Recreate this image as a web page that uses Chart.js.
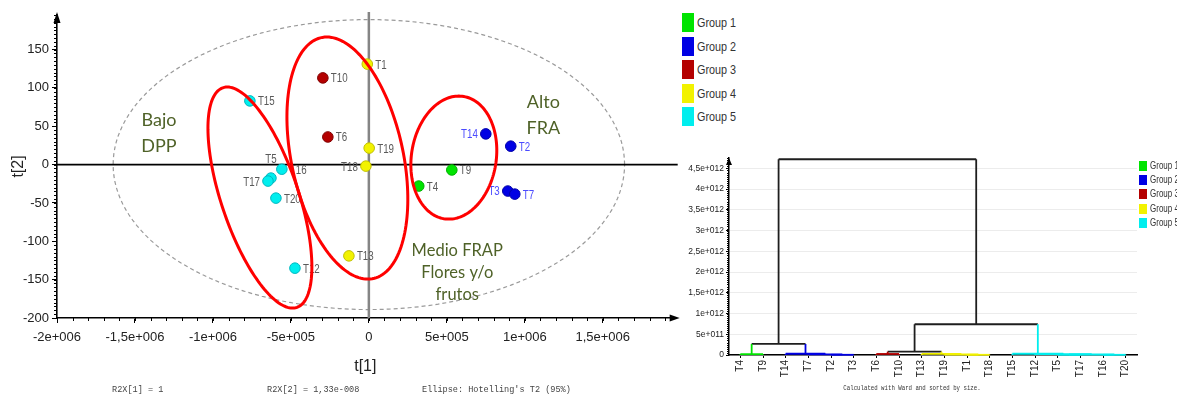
<!DOCTYPE html>
<html><head><meta charset="utf-8">
<script src="https://cdn.jsdelivr.net/npm/chart.js@4.4.1/dist/chart.umd.min.js"></script>
<style>
html,body{margin:0;padding:0;background:#fff}
body{width:1177px;height:396px;overflow:hidden;position:relative;font-family:'Liberation Sans',Arial,sans-serif}
#c1{position:absolute;left:0;top:0}
#c2{position:absolute;left:680px;top:140px}
.sw{position:absolute}
.lt{position:absolute;white-space:nowrap;color:#333;transform:scaleX(0.8);transform-origin:0 50%}
</style></head><body>
<canvas id="c1" width="680" height="396"></canvas>
<canvas id="c2" width="497" height="256"></canvas>
<div id="leg1"></div><div id="leg2"></div>
<script>
// ---------- data ----------
const groupNames = ['Group 1','Group 2','Group 3','Group 4','Group 5'];
const groupColors = ['#00e400','#0000e4','#b40000','#f2f200','#00eeee'];
const groupEdge   = ['#00b000','#0000a8','#800000','#c0c000','#00b8c0'];

// score plot observations t[1], t[2]
const obsNames = ['T1','T2','T3','T4','T5','T6','T7','T9','T10','T12','T13','T14','T15','T16','T17','T18','T19','T20'];
const obsT1    = [-10000,910000,891000,320000,-628000,-263000,936000,532000,-295000,-474000,-128000,750000,-763000,-558000,-647000,-19000,2000,-596000];
const obsT2    = [131,24,-34.5,-28,-17.6,36,-38.5,-7,113,-135,-119,40,83,-6,-21.5,-2,21.5,-43.7];
const obsGroup = [4,2,2,1,5,3,2,1,3,5,4,2,5,5,5,4,4,5];
const labelSide= ['r','r','l','r','t','r','r','r','r','r','r','l','r','r','l','l','r','r'];

const xTickValues = [-2e6,-1.5e6,-1e6,-5e5,0,5e5,1e6,1.5e6];
const xTickLabels = ['-2e+006','-1,5e+006','-1e+006','-5e+005','0','5e+005','1e+006','1,5e+006'];
const yTickValues = [-200,-150,-100,-50,0,50,100,150];
const yTickLabels = ['-200','-150','-100','-50','0','50','100','150'];

// Hotelling T2 (95%) ellipse semi-axes, data units
const hotellingA = 1.64e6, hotellingB = 189;
// hand-drawn region ellipses: centre + two conjugate semi-diameters (data units)
const regionEllipses = [
  {cx:-698700, cy:-43.0, ux:-209000, uy:144.1, vx:259600, vy:0},
  {cx:-137800, cy:8.5,   ux:-131400, uy:157.8, vx:364700, vy:0},
  {cx:544900,  cy:9.1,   ux:32000,   uy:80.2,  vx:273700, vy:0}
];
const regionTexts = [
  {x:-1.346e6, y:50.2,   lines:['Bajo','DPP'], size:18, lh:26},
  {x:1.119e6,  y:73.7,   lines:['Alto','FRA'], size:18, lh:26},
  {x:567000,   y:-119.3, lines:['Medio FRAP','Flores y/o','frutos'], size:16.5, lh:22}
];
const footerTexts = ['R2X[1] = 1','R2X[2] = 1,33e-008',"Ellipse: Hotelling's T2 (95%)"];

// dendrogram
const leaves    = ['T4','T9','T14','T7','T2','T3','T6','T10','T13','T19','T1','T18','T15','T12','T5','T17','T16','T20'];
const leafGroup = [1,1,2,2,2,2,3,3,4,4,4,4,5,5,5,5,5,5];
// merges: node ids 0..17 are leaves, merge k creates node 18+k
const mergeA      = [0, 4, 3, 2, 18, 6, 10, 9, 8, 23, 14, 16, 28, 13, 12, 27, 22];
const mergeB      = [1, 5, 19, 20, 21, 7, 11, 24, 25, 26, 15, 17, 29, 30, 31, 32, 33];
const mergeHeight = [0.02e12,0.005e12,0.015e12,0.03e12,0.266e12,0.025e12,0.005e12,0.012e12,0.025e12,0.08e12,0.005e12,0.005e12,0.012e12,0.02e12,0.03e12,0.742e12,4.72e12];
const mergeGroup  = [1,2,2,2,0,3,4,4,4,0,5,5,5,5,5,0,0];
const dTickValues = [0,5e11,1e12,1.5e12,2e12,2.5e12,3e12,3.5e12,4e12,4.5e12];
const dTickLabels = ['0','5e+011','1e+012','1,5e+012','2e+012','2,5e+012','3e+012','3,5e+012','4e+012','4,5e+012'];
const dendroNote = 'Calculated with Ward and sorted by size.';

// ---------- helpers ----------
const SANS = "'Liberation Sans',Arial,sans-serif";
function ellipsePath(ctx, xs, ys, e){
  ctx.beginPath();
  for(let i=0;i<=160;i++){
    const t=i/160*2*Math.PI;
    const dx=e.cx+e.ux*Math.cos(t)+e.vx*Math.sin(t);
    const dy=e.cy+e.uy*Math.cos(t)+e.vy*Math.sin(t);
    const px=xs.getPixelForValue(dx), py=ys.getPixelForValue(dy);
    if(i===0) ctx.moveTo(px,py); else ctx.lineTo(px,py);
  }
  ctx.closePath();
}
function narrowText(ctx, text, x, y, align, sx){
  ctx.save(); ctx.translate(x,y); ctx.scale(sx,1); ctx.textAlign=align; ctx.fillText(text,0,0); ctx.restore();
}

// ---------- score plot ----------
const scatterDatasets = groupNames.map((g,gi)=>{
  const idx = obsNames.map((n,i)=>i).filter(i=>obsGroup[i]===gi+1);
  return {label:g, data: idx.map(i=>({x:obsT1[i], y:obsT2[i], i})),
    backgroundColor:groupColors[gi], borderColor:groupEdge[gi], borderWidth:1,
    pointRadius:5.3, pointHoverRadius:5.3, clip:false};
});

const scorePlugin = {
  id:'score',
  beforeDatasetsDraw(chart){
    const {ctx, chartArea:ca, scales:{x,y}} = chart;
    ctx.save();
    ellipsePath(ctx,x,y,{cx:0,cy:0,ux:hotellingA,uy:0,vx:0,vy:hotellingB});
    ctx.setLineDash([4,3]); ctx.strokeStyle='#9a9a9a'; ctx.lineWidth=1.2; ctx.stroke();
    ctx.setLineDash([]);
    const x0=x.getPixelForValue(0), y0=y.getPixelForValue(0);
    ctx.strokeStyle='#858585'; ctx.lineWidth=2.5;
    ctx.beginPath(); ctx.moveTo(x0,ca.top-3); ctx.lineTo(x0,ca.bottom); ctx.stroke();
    ctx.strokeStyle='#000'; ctx.lineWidth=1.6;
    ctx.beginPath(); ctx.moveTo(ca.left,y0); ctx.lineTo(ca.right+4,y0); ctx.stroke();
    ctx.restore();
  },
  afterDatasetsDraw(chart){
    const {ctx, scales:{x,y}} = chart;
    ctx.save();
    // point labels
    ctx.font = "12.5px "+SANS; ctx.textBaseline='middle';
    chart.data.datasets.forEach((ds,di)=>{
      const meta = chart.getDatasetMeta(di);
      ds.data.forEach((d,j)=>{
        const el = meta.data[j]; const i = d.i;
        ctx.fillStyle = obsGroup[i]===2 ? '#4b4bff' : '#5a5a5a';
        const s = labelSide[i];
        if(s==='r') narrowText(ctx,obsNames[i],el.x+8,el.y+1,'left',0.78);
        else if(s==='l') narrowText(ctx,obsNames[i],el.x-8,el.y+1,'right',0.78);
        else narrowText(ctx,obsNames[i],el.x,el.y-19,'center',0.78);
      });
    });
    // region ellipses
    regionEllipses.forEach(e=>{
      ellipsePath(ctx,x,y,e);
      ctx.strokeStyle='#ff0000'; ctx.lineWidth=3; ctx.stroke();
    });
    // region texts
    ctx.fillStyle='#4f6228'; ctx.textAlign='center'; ctx.textBaseline='alphabetic';
    regionTexts.forEach(t=>{
      ctx.font = t.size+"px Lato, 'Open Sans', sans-serif";
      const px=x.getPixelForValue(t.x), py=y.getPixelForValue(t.y);
      t.lines.forEach((l,k)=>ctx.fillText(l,px,py+k*t.lh));
    });
    ctx.restore();
  },
  afterDraw(chart){
    const {ctx, chartArea:ca, scales:{x,y}} = chart;
    ctx.save();
    ctx.strokeStyle='#000'; ctx.lineWidth=1;
    // minor ticks
    const xs=(xTickValues[1]-xTickValues[0])/5;
    ctx.beginPath();
    for(let v=x.min; v<=x.max+1; v+=xs){ const p=Math.round(x.getPixelForValue(v))+0.5; ctx.moveTo(p,ca.bottom); ctx.lineTo(p,ca.bottom+3); }
    const ysStep=(yTickValues[1]-yTickValues[0])/10;
    for(let v=y.min; v<=y.max; v+=ysStep){ const p=Math.round(y.getPixelForValue(v))+0.5; ctx.moveTo(ca.left-3,p); ctx.lineTo(ca.left,p); }
    ctx.stroke();
    // arrows
    ctx.fillStyle='#000';
    ctx.beginPath(); ctx.moveTo(ca.left-3.5,ca.top+8); ctx.lineTo(ca.left+3.5,ca.top+8); ctx.lineTo(ca.left,ca.top-3); ctx.closePath(); ctx.fill();
    ctx.beginPath(); ctx.moveTo(ca.right-4,ca.bottom-3.5); ctx.lineTo(ca.right-4,ca.bottom+3.5); ctx.lineTo(ca.right+6,ca.bottom); ctx.closePath(); ctx.fill();
    // footer
    ctx.font="9.5px 'Liberation Mono','DejaVu Sans Mono',monospace"; ctx.fillStyle='#444';
    ctx.textBaseline='middle';
    const fx=[112,267,422];
    footerTexts.forEach((t,k)=>narrowText(ctx,t,fx[k],389,'left',0.9));
    ctx.restore();
  }
};

new Chart(document.getElementById('c1'),{
  type:'scatter',
  data:{datasets:scatterDatasets},
  plugins:[scorePlugin],
  options:{
    responsive:false, animation:false, devicePixelRatio:1, events:[],
    layout:{padding:{top:15,right:6,left:0,bottom:0}},
    plugins:{legend:{display:false},tooltip:{enabled:false}},
    scales:{
      x:{type:'linear',min:-2e6,max:1.955e6,
        afterBuildTicks(s){s.ticks=xTickValues.map(v=>({value:v}));},
        afterFit(s){s.height=78;},
        ticks:{callback:(v,i)=>xTickLabels[i],font:{size:13,family:SANS},color:'#222',padding:7,maxRotation:0,autoSkip:false},
        grid:{drawOnChartArea:false,drawTicks:true,tickLength:5,color:'#000'},
        border:{display:true,color:'#000',width:1.6},
        title:{display:true,text:'t[1]',font:{size:16,family:SANS},color:'#222',padding:{top:0,bottom:20}}
      },
      y:{type:'linear',min:-200,max:195,
        afterBuildTicks(s){s.ticks=yTickValues.map(v=>({value:v}));},
        afterFit(s){s.width=57;},
        ticks:{callback:(v,i)=>yTickLabels[i],font:{size:13,family:SANS},color:'#222',padding:3},
        grid:{drawOnChartArea:false,drawTicks:true,tickLength:5,color:'#000'},
        border:{display:true,color:'#000',width:1.6},
        title:{display:true,text:'t[2]',font:{size:16,family:SANS},color:'#222',padding:{top:9,bottom:0}}
      }
    }
  }
});

// ---------- dendrogram ----------
const nodeX = leaves.map((l,i)=>i), nodeH = leaves.map(()=>0), nodeG = leafGroup.slice();
mergeA.forEach((a,k)=>{ const b=mergeB[k]; nodeX.push((nodeX[a]+nodeX[b])/2); nodeH.push(mergeHeight[k]); nodeG.push(mergeGroup[k]); });
const gcol = g => g===0 ? '#1e1e1e' : groupColors[g-1];
const dendroDatasets = [];
mergeA.forEach((a,k)=>{
  const b=mergeB[k], h=mergeHeight[k];
  [a,b].forEach(c=>dendroDatasets.push({data:[{x:nodeX[c],y:nodeH[c]},{x:nodeX[c],y:h}],borderColor:gcol(nodeG[c])}));
  dendroDatasets.push({data:[{x:nodeX[a],y:h},{x:nodeX[b],y:h}],borderColor:gcol(mergeGroup[k])});
});
dendroDatasets.forEach(d=>{d.type='line';d.borderWidth=1.8;d.pointRadius=0;d.fill=false;d.tension=0;d.clip=false;});

const dendroPlugin = {
  id:'dendro',
  afterDraw(chart){
    const {ctx, chartArea:ca, scales:{y}} = chart;
    ctx.save();
    ctx.strokeStyle='#000'; ctx.lineWidth=1;
    const st=(dTickValues[1]-dTickValues[0])/10;
    ctx.beginPath();
    for(let v=0; v<=y.max; v+=st){ const p=Math.round(y.getPixelForValue(v))+0.5; ctx.moveTo(ca.left-2,p); ctx.lineTo(ca.left,p); }
    ctx.stroke();
    ctx.fillStyle='#000';
    ctx.beginPath(); ctx.moveTo(ca.left-3,ca.top+7); ctx.lineTo(ca.left+3,ca.top+7); ctx.lineTo(ca.left,ca.top); ctx.closePath(); ctx.fill();
    ctx.font="6.5px 'Liberation Mono','DejaVu Sans Mono',monospace"; ctx.fillStyle='#333';
    ctx.textBaseline='middle';
    narrowText(ctx,dendroNote,232,248,'center',0.88);
    ctx.restore();
  }
};

new Chart(document.getElementById('c2'),{
  type:'line',
  data:{datasets:dendroDatasets},
  plugins:[dendroPlugin],
  options:{
    responsive:false, animation:false, devicePixelRatio:1, events:[],
    layout:{padding:{top:18,right:40,left:0,bottom:0}},
    plugins:{legend:{display:false},tooltip:{enabled:false}},
    scales:{
      x:{type:'linear',min:-0.5,max:leaves.length-0.5,
        afterBuildTicks(s){s.ticks=leaves.map((l,i)=>({value:i}));},
        afterFit(s){s.height=41;},
        ticks:{callback:(v,i)=>leaves[i],font:{size:10,family:SANS},color:'#222',padding:2,minRotation:90,maxRotation:90,autoSkip:false},
        grid:{drawOnChartArea:false,drawTicks:true,tickLength:3,color:'#000'},
        border:{display:true,color:'#000',width:1.5}
      },
      y:{type:'linear',min:0,max:4.75e12,
        afterBuildTicks(s){s.ticks=dTickValues.map(v=>({value:v}));},
        afterFit(s){s.width=49;},
        ticks:{callback:(v,i)=>dTickLabels[i],font:{size:8.5,family:SANS},color:'#222',padding:2},
        grid:{drawOnChartArea:true,color:'#ececec',tickColor:'#000',drawTicks:true,tickLength:3},
        border:{display:true,color:'#000',width:1.5}
      }
    }
  }
});

// ---------- legends ----------
function buildLegend(id, left, top, step, sw, sh, fs){
  const el=document.getElementById(id);
  groupNames.forEach((g,i)=>{
    const s=document.createElement('div'); s.className='sw';
    Object.assign(s.style,{left:left+'px',top:(top+i*step)+'px',width:sw+'px',height:sh+'px',background:groupColors[i]});
    el.appendChild(s);
    const t=document.createElement('div'); t.className='lt'; t.textContent=g;
    Object.assign(t.style,{left:(left+sw+3)+'px',top:(top+i*step)+'px',height:sh+'px',lineHeight:sh+'px',fontSize:fs+'px'});
    el.appendChild(t);
  });
}
buildLegend('leg1',682,13,23.6,12,19,13.5);
buildLegend('leg2',1139,161,14.2,8,10,10);
</script>
</body></html>
